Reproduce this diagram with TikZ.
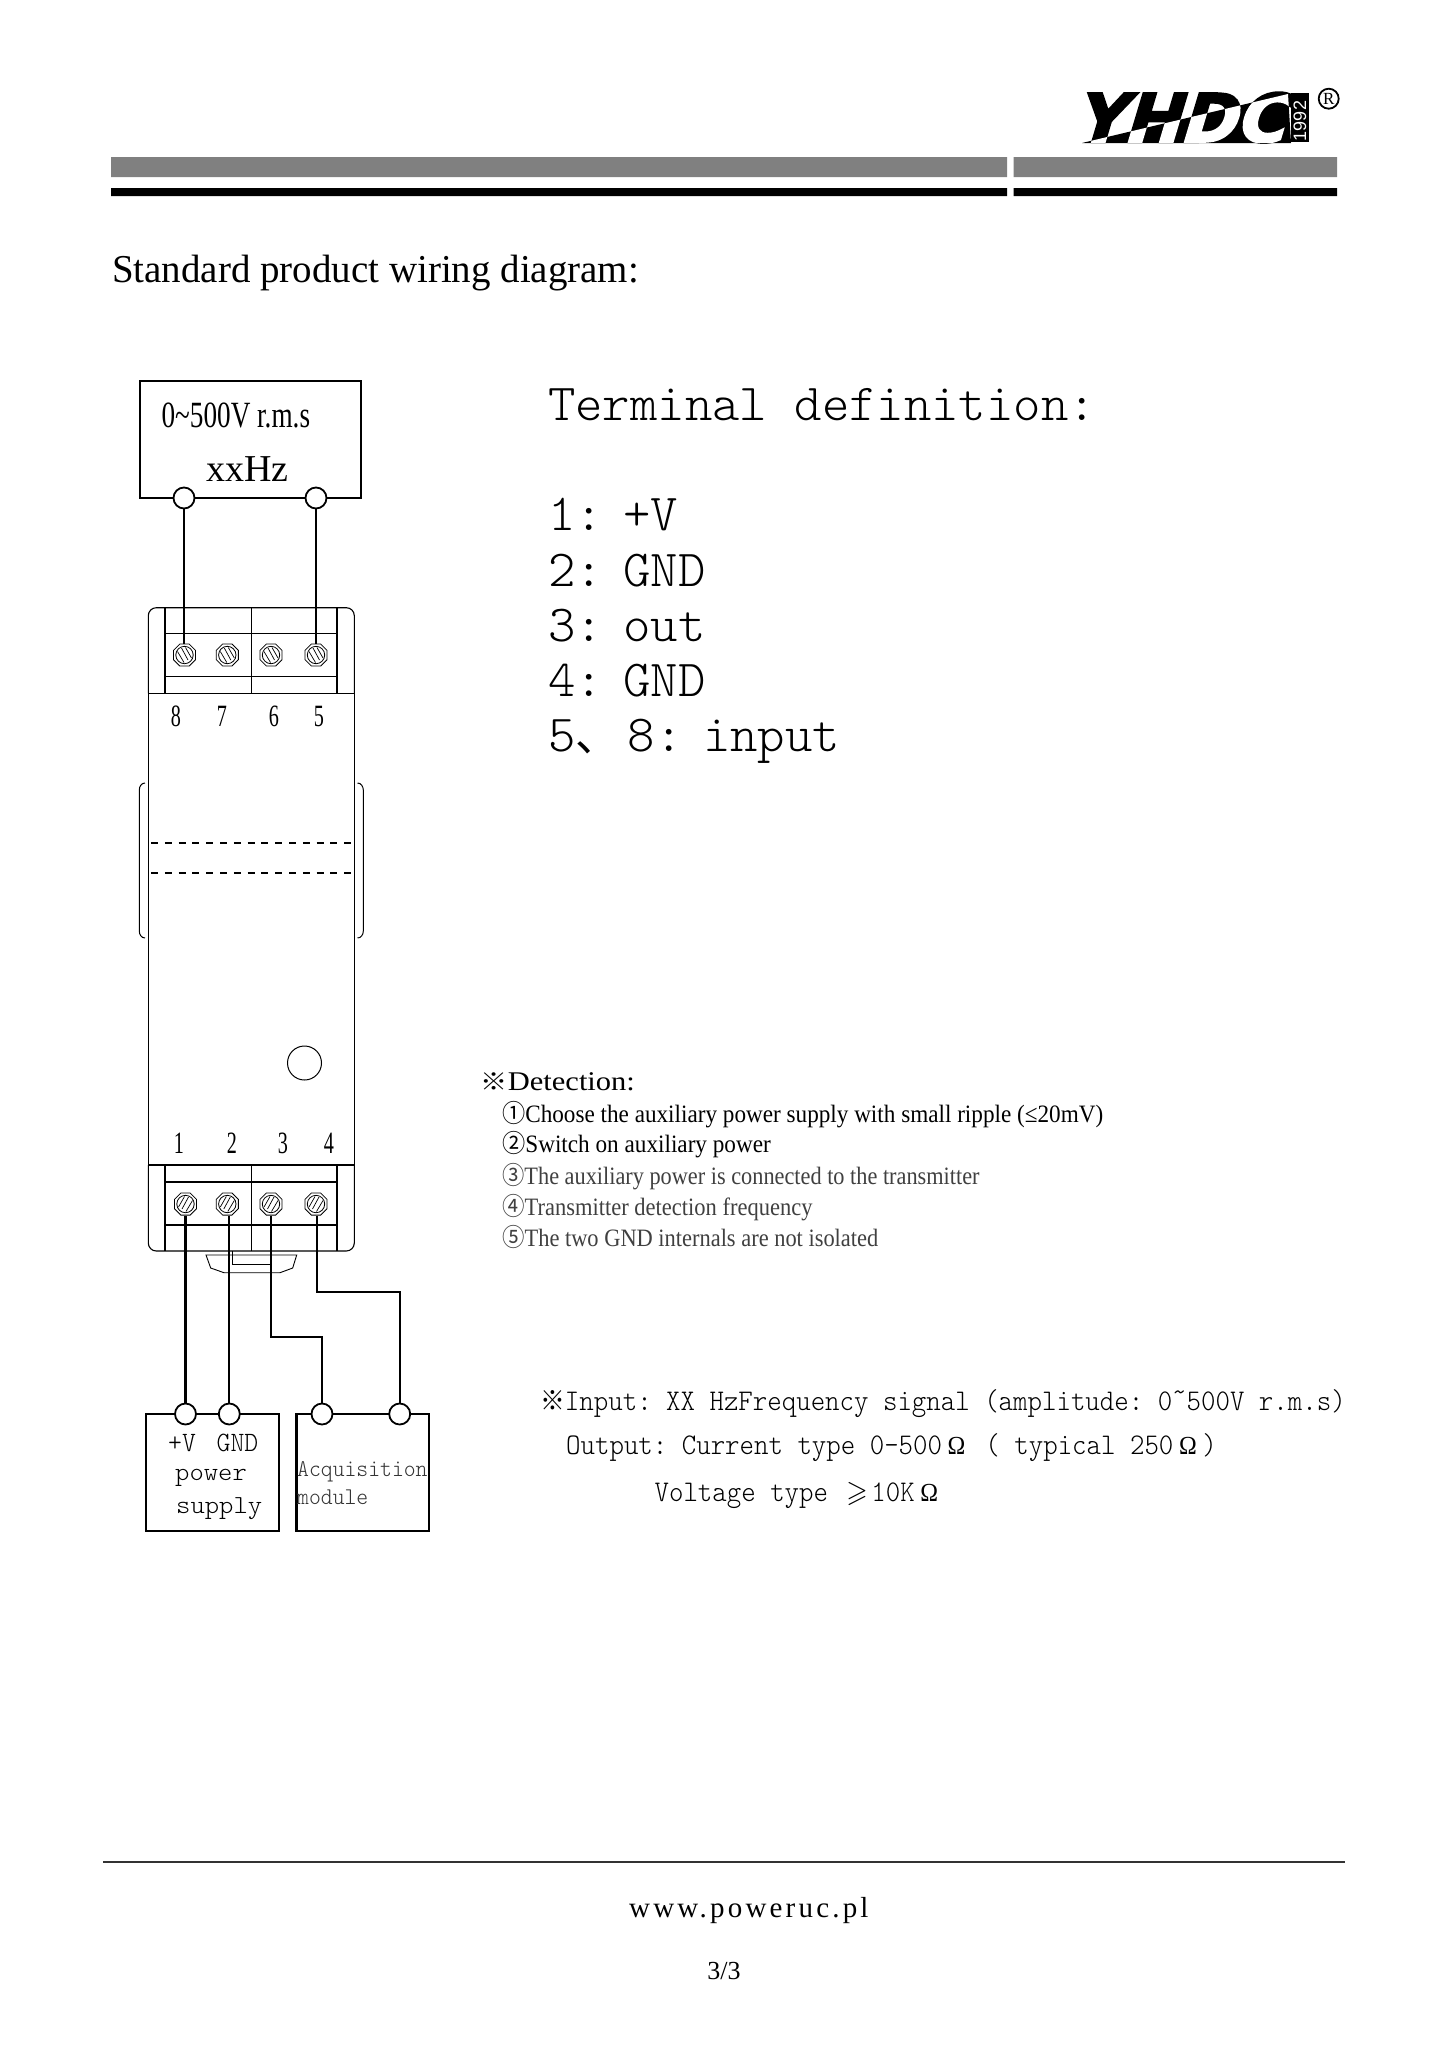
\documentclass[tikz,border=0pt]{standalone}
\usepackage{fontspec}
\usepackage{amssymb}
\usetikzlibrary{shapes.geometric}
\setmainfont{Liberation Serif}
\setsansfont{Liberation Sans}
\setmonofont{Latin Modern Mono Light}
\newfontfamily\cjkfont{Noto Sans CJK SC}
\newfontfamily\sitefont[LetterSpace=11]{Liberation Serif}
\newfontfamily\logofont[FakeSlant=.3,FakeBold=3]{DejaVu Sans Bold}
\newcommand{\fsz}[1]{\fontsize{#1}{#1}\selectfont}
\newcommand{\wideohm}{\makebox[1.05em]{\rmfamily\fsz{26}Ω}}
\newcommand{\widegeq}{\makebox[1.05em]{\rmfamily\fsz{30}$\geqslant$}}
\tikzset{
	txt/.style={anchor=base west,inner sep=0pt},
	titletxt/.style={txt,font=\fsz{39.5},xscale=.986},
	monotxt/.style={txt,font=\ttfamily\fsz{30},xscale=.918},
	termtxt/.style={txt,font=\ttfamily\fsz{52},xscale=1.003},
	detecttxt/.style={txt,font=\fsz{25}},
	boxtxt/.style={txt,font=\ttfamily\fsz{26},xscale=1.05},
	devnum/.style={anchor=base,inner sep=0pt,font=\fsz{31},xscale=.65},
	port/.style={circle,draw,fill=white,line width=1.8pt,minimum size=21pt,inner sep=0pt},
	screw/.style={regular polygon,regular polygon sides=8,draw,fill=white,line width=.8pt,minimum size=24pt,inner sep=0pt},
	wire/.style={line width=2.3pt},
	boxline/.style={line width=2.2pt},
	devline/.style={line width=1.1pt},
}
\begin{document}
\begin{tikzpicture}[x=1pt,y=-1pt]
	\useasboundingbox (0,0) rectangle (1447,2048);
	\fill[white] (0,0) rectangle (1447,2048);
	\node[txt,font=\logofont\fsz{67},xscale=1.0] (logo) at (1074,142) {YHDC};
	\fill[white,blend mode=difference] (1082,143) -- (1288,94) -- (1291,143) -- cycle;
	\fill (1291,93) rectangle (1309,142);
	\node[rotate=90,white,inner sep=0pt,font=\sffamily\fsz{18}] (year) at (1300,121) {1992};
	\node[circle,draw,line width=1.8pt,minimum size=20pt,inner sep=0pt,font=\fsz{17}] (reg) at (1328.7,98.7) {R};
	\fill[gray] (111,157) rectangle (1007,177) (1013.5,157) rectangle (1337,177);
	\fill (111,188) rectangle (1007,196) (1013.5,188) rectangle (1337,196);
	\node[titletxt] (title) at (112,282) {Standard product wiring diagram:};

	\draw[boxline] (139.8,381) rectangle (360.7,497.7);
	\node[txt,font=\fsz{37},xscale=.735] (srca) at (161.5,427.7) {0\textasciitilde500V r.m.s};
	\node[txt,font=\fsz{38}] (srcb) at (206,481.7) {xxHz};
	\node[port] (in8) at (184,498) {};
	\node[port] (in5) at (316,498) {};

	\draw[devline,rounded corners=8pt] (148.3,693.3) -- (148.3,607.7) -- (354.3,607.7) -- (354.3,693.3);
	\draw[devline] (148.3,693.3) -- (148.3,1165) (354.3,693.3) -- (354.3,1165);
	\draw[devline,rounded corners=8pt] (148.3,1165) -- (148.3,1251) -- (354.3,1251) -- (354.3,1165);
	\foreach \x in {165,251.3,337}
	{
		\draw[devline] (\x,607.7) -- (\x,693.3);
		\draw[devline] (\x,1165) -- (\x,1251);
	}
	\foreach \y in {633.3,676.7,1182,1225}
	{
		\draw[devline] (165,\y) -- (337,\y);
	}
	\draw[devline] (148.3,693.3) -- (354.3,693.3);
	\draw[devline] (148.3,1165) -- (354.3,1165);
	\foreach \n/\x in {8/184.5,7/227.3,6/271,5/316}
	{
		\node[screw] (s\n) at (\x,655) {};
		\draw[line width=.8pt] (\x,655) circle (8.7pt);
		\draw[line width=.7pt] (\x-7,655-3.5) -- (\x-.5,655+7.5) (\x-3,655-7) -- (\x+3.5,655+5) (\x+1,655-7.5) -- (\x+7,655+3);
	}
	\foreach \n/\x in {1/185.5,2/227.3,3/271,4/316}
	{
		\node[screw] (s\n) at (\x,1204) {};
		\draw[line width=.8pt] (\x,1204) circle (8.7pt);
		\draw[line width=.7pt] (\x+7,1204-3.5) -- (\x+.5,1204+7.5) (\x+3,1204-7) -- (\x-3.5,1204+5) (\x-1,1204-7.5) -- (\x-7,1204+3);
	}
	\foreach \n/\x in {8/176,7/222,6/274,5/319}
	{
		\node[devnum] (num\n) at (\x,726) {\n};
	}
	\foreach \n/\x in {1/179,2/232,3/283,4/329}
	{
		\node[devnum] (num\n) at (\x,1153.3) {\n};
	}
	\draw[line width=1pt] (145,783) to[out=180,in=90] (139.3,790) -- (139.3,931) to[out=-90,in=180] (145,938);
	\draw[line width=1pt] (357.5,783) to[out=0,in=90] (363.3,790) -- (363.3,931) to[out=-90,in=0] (357.5,938);
	\draw[devline,dash pattern=on 7pt off 6.8pt] (151,843) -- (352,843);
	\draw[devline,dash pattern=on 7pt off 6.8pt] (151,873) -- (352,873);
	\node[circle,draw,line width=1pt,minimum size=34pt,inner sep=0pt] (led) at (304.5,1063) {};
	\draw[line width=.9pt] (206,1255) -- (210.7,1268) -- (224,1272.7) -- (280,1272.7) -- (292.7,1268) -- (296.7,1255) -- cycle;
	\draw[line width=.9pt] (232.7,1251) -- (232.7,1264) -- (271,1264);

	\draw[boxline] (145.7,1414) rectangle (279,1530.7);
	\draw[boxline] (296.5,1414) rectangle (429,1530.7);
	\node[port] (vp) at (185.5,1414) {};
	\node[port] (gnd) at (229.3,1414) {};
	\node[port] (acqa) at (322,1414) {};
	\node[port] (acqb) at (399.7,1414) {};
	\node[boxtxt,xscale=.9,font=\ttfamily\fsz{28}] (vptxt) at (168,1451.7) {+V};
	\node[boxtxt,xscale=.9,font=\ttfamily\fsz{28}] (gndtxt) at (216.5,1451.7) {GND};
	\node[boxtxt] (powtxt) at (175,1480) {power};
	\node[boxtxt] (suptxt) at (176,1513) {supply};
	\node[boxtxt,xscale=.896,font=\ttfamily\fsz{24},black!80] (acqtxt) at (297,1476) {Acquisition};
	\node[boxtxt,xscale=.896,font=\ttfamily\fsz{24},black!80] (modtxt) at (297,1504) {module};

	\coordinate (bendc) at (271,1337);
	\coordinate (bendd) at (317,1292);
	\draw[wire] (in8) -- (in8 |- s8.north);
	\draw[wire] (in5) -- (in5 |- s5.north);
	\draw[wire] (vp) -- (vp |- s1.south);
	\draw[wire] (gnd) -- (gnd |- s2.south);
	\draw[wire] (s3.south) -- (bendc) -| (acqa);
	\draw[wire] (bendd |- s4.south) -- (bendd) -| (acqb);

	\node[termtxt] (deftitle) at (548,420) {Terminal definition:};
	\foreach \n/\t/\y in {1/+V/530.7,2/GND/586,3/out/641.7,4/GND/696.7}
	{
		\node[termtxt] (def\n) at (548,\y) {\n:\kern-.13em\ \t};
	}
	\node[termtxt] (def5) at (548,751.7) {5\makebox[.525em][l]{\cjkfont\fsz{44}、}\kern-.05em\ 8:\kern-.13em\ input};

	\node[txt,font=\fsz{27},xscale=1.13] (dethead) at (480.5,1090.7) {{\cjkfont\fsz{24}※}Detection:};
	\node[detecttxt,xscale=.927] (deta) at (502,1122) {{\cjkfont\fsz{25}①}Choose the auxiliary power supply with small ripple (≤20mV)};
	\node[detecttxt,xscale=.928] (detb) at (502,1152.7) {{\cjkfont\fsz{25}②}Switch on auxiliary power};
	\node[detecttxt,xscale=.892,black!75] (detc) at (502,1184) {{\cjkfont\fsz{25}③}The auxiliary power is connected to the transmitter};
	\node[detecttxt,xscale=.9,black!75] (detd) at (502,1215) {{\cjkfont\fsz{25}④}Transmitter detection frequency};
	\node[detecttxt,xscale=.897,black!75] (dete) at (502,1246) {{\cjkfont\fsz{25}⑤}The two GND internals are not isolated};

	\node[monotxt] (inp) at (540,1410.7) {\makebox[1.05em][l]{\cjkfont\fsz{27}※}\kern-.15em Input: XX HzFrequency signal (amplitude: 0\raisebox{.3em}{\textasciitilde}500V r.m.s)};
	\node[monotxt] (outp) at (566,1454) {Output: Current type 0-500\wideohm{} ( typical 250\wideohm{})};
	\node[monotxt] (volt) at (654.4,1501.7) {Voltage type \widegeq{}10K\wideohm};

	\draw[line width=1.4pt,black!80] (103,1862) -- (1345,1862);
	\node[txt,font=\sitefont\fsz{29}] (site) at (629,1917) {www.poweruc.pl};
	\node[anchor=base,inner sep=0pt,font=\fsz{26}] (page) at (724,1979) {3/3};
\end{tikzpicture}
\end{document}
